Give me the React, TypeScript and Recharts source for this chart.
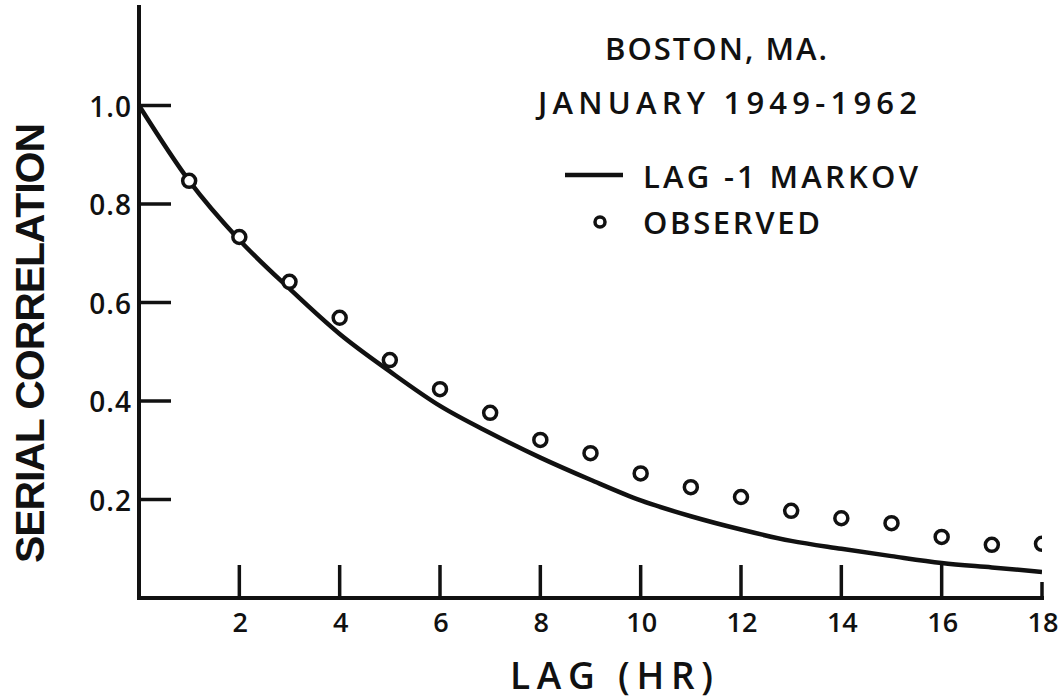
import React from 'react';
import { ComposedChart, Line, Scatter, XAxis, YAxis } from 'recharts';

// lag in hours
const markovLags = [0, 1, 2, 3, 4, 5, 6, 7, 8, 9, 10, 11, 12, 13, 14, 15, 16, 17, 18];
const markovValues = [1.0, 0.847, 0.727, 0.628, 0.536, 0.46, 0.39, 0.335, 0.285, 0.24, 0.198, 0.166, 0.139, 0.116, 0.1, 0.085, 0.071, 0.062, 0.053];

const observedLags = [1, 2, 3, 4, 5, 6, 7, 8, 9, 10, 11, 12, 13, 14, 15, 16, 17, 18];
const observedValues = [0.847, 0.733, 0.642, 0.569, 0.483, 0.424, 0.376, 0.321, 0.294, 0.253, 0.225, 0.205, 0.177, 0.162, 0.152, 0.124, 0.108, 0.11];

const xTicks = [2, 4, 6, 8, 10, 12, 14, 16, 18];
const yTicks = [0.2, 0.4, 0.6, 0.8, 1.0];
const yTickLabels = ['0.2', '0.4', '0.6', '0.8', '1.0'];

const titleLines = ['BOSTON, MA.', 'JANUARY 1949-1962'];
const seriesNames = ['LAG -1 MARKOV', 'OBSERVED'];

const FONT = '"Open Sans", "DejaVu Sans", sans-serif';
const AXIS_FONT = '"Liberation Sans", Arial, sans-serif';
const INK = '#111';

const markovData = markovLags.map((lag, i) => ({ lag, r: markovValues[i] }));
const observedData = observedLags.map((lag, i) => ({ lag, r: observedValues[i] }));

// ticks sit inside the plot: x ticks point up, y ticks point right
const XTick = (props: any) => {
  const { x, y, payload } = props;
  const len = payload.value === 18 ? 16 : 33;
  return (
    <g>
      <line x1={x} x2={x} y1={y} y2={y - len} stroke={INK} strokeWidth={3.5} />
      <text x={x + 1} y={y + 23} textAnchor="middle" dominantBaseline="central" fontFamily={FONT} fontWeight={600} fontSize={27} fill={INK}>
        {payload.value}
      </text>
    </g>
  );
};

const YTick = (props: any) => {
  const { x, y, payload } = props;
  const idx = yTicks.indexOf(payload.value);
  return (
    <g>
      <line x1={x} x2={x + 32} y1={y} y2={y} stroke={INK} strokeWidth={3.5} />
      <text x={x - 7} y={y} textAnchor="end" dominantBaseline="central" fontFamily={FONT} fontWeight={600} fontSize={28} fill={INK} letterSpacing={1}>
        {idx >= 0 ? yTickLabels[idx] : payload.value}
      </text>
    </g>
  );
};

const ObservedDot = (props: any) => (
  <circle cx={props.cx} cy={props.cy} r={6.5} fill="#fff" stroke={INK} strokeWidth={3.5} />
);

const labelText = { fontFamily: FONT, fontWeight: 600, fontSize: 31, fill: INK, dominantBaseline: 'central' as const, lengthAdjust: 'spacing' };

export default function App() {
  return (
    <div style={{ position: 'absolute', left: 0, top: 0, width: 1061, height: 700, background: '#fff' }}>
      <ComposedChart width={1061} height={700} margin={{ top: 7, right: 19, bottom: 2, left: 79 }}>
        <XAxis
          dataKey="lag"
          type="number"
          domain={[0, 18]}
          ticks={xTicks}
          allowDataOverflow
          height={100}
          tickSize={0}
          tickMargin={0}
          tickLine={false}
          tick={<XTick />}
          axisLine={{ stroke: INK, strokeWidth: 4, strokeLinecap: 'square' }}
          label={{
            content: ({ viewBox }: any) => (
              <text x={viewBox.x + 371} y={viewBox.y + 76} textLength={203} {...labelText} fontSize={37}>
                LAG (HR)
              </text>
            ),
          }}
        />
        <YAxis
          type="number"
          domain={[0, 1.2]}
          ticks={yTicks}
          allowDataOverflow
          width={60}
          tickSize={0}
          tickMargin={0}
          tickLine={false}
          tick={<YTick />}
          axisLine={{ stroke: INK, strokeWidth: 4, strokeLinecap: 'square' }}
          label={{
            content: ({ viewBox }: any) => {
              const cx = viewBox.x - 49;
              const cy = 343;
              return (
                <text x={cx} y={cy} transform={`rotate(-90 ${cx} ${cy})`} textAnchor="middle" dominantBaseline="central" fontFamily={AXIS_FONT} fontSize={41} fontWeight="bold" fill={INK} textLength={440} lengthAdjust="spacing">
                  SERIAL CORRELATION
                </text>
              );
            },
          }}
        />
        <Line data={markovData} dataKey="r" type="monotone" stroke={INK} strokeWidth={4.5} dot={false} activeDot={false} isAnimationActive={false} />
        <Scatter data={observedData} dataKey="r" shape={<ObservedDot />} isAnimationActive={false} />
      </ComposedChart>

      <svg width={1061} height={700} style={{ position: 'absolute', left: 0, top: 0, pointerEvents: 'none' }}>
        <text x={605} y={48} textLength={222} {...labelText}>
          {titleLines[0]}
        </text>
        <text x={538} y={102} textLength={379} {...labelText}>
          {titleLines[1]}
        </text>
        <line x1={565} x2={623} y1={175} y2={175} stroke={INK} strokeWidth={4.5} />
        <text x={643} y={176} textLength={275} {...labelText}>
          {seriesNames[0]}
        </text>
        <circle cx={600} cy={222} r={5} fill="#fff" stroke={INK} strokeWidth={3.5} />
        <text x={643} y={222} textLength={177} {...labelText}>
          {seriesNames[1]}
        </text>
      </svg>
    </div>
  );
}
